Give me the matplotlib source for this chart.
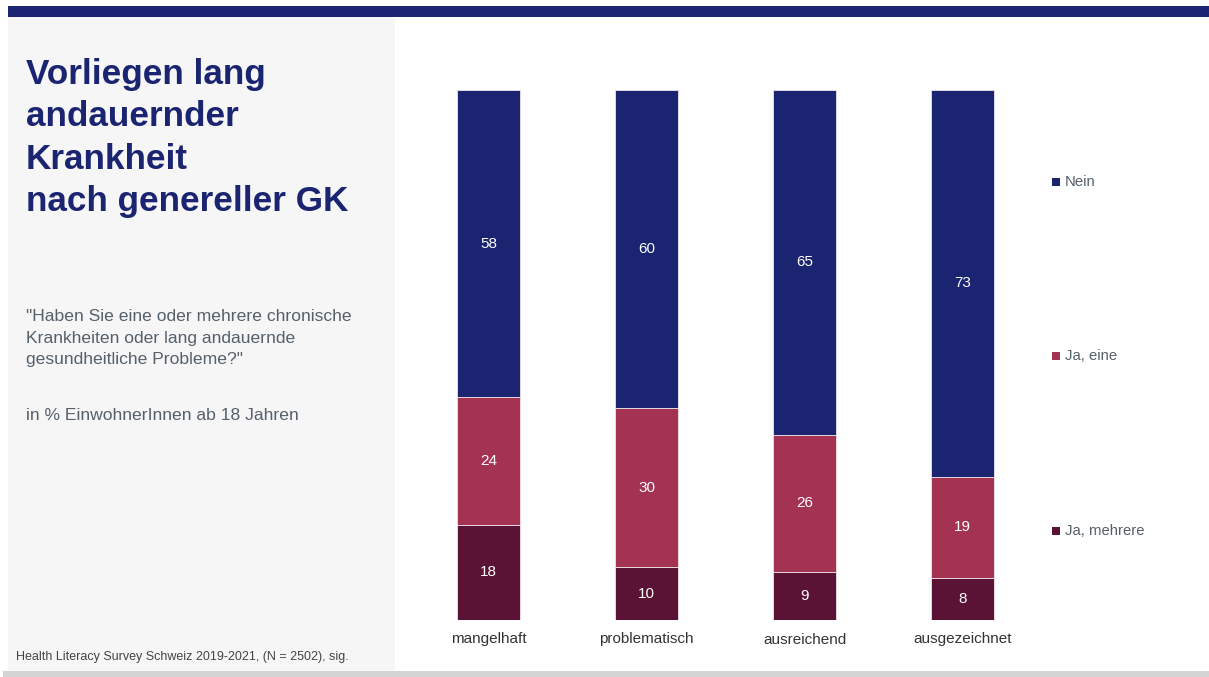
import numpy as np
import matplotlib
matplotlib.use('Agg')
import matplotlib.pyplot as plt
from matplotlib.patches import Rectangle

plt.rcParams['font.family'] = ['Liberation Sans', 'DejaVu Sans']

categories = ['mangelhaft', 'problematisch', 'ausreichend', 'ausgezeichnet']
ja_mehrere = [18, 10, 9, 8]
ja_eine = [24, 30, 26, 19]
nein = [58, 60, 65, 73]
series_names = ['Nein', 'Ja, eine', 'Ja, mehrere']

c_nein = '#1a2471'
c_eine = '#a33253'
c_mehr = '#5a1235'
navy = '#1a2471'
grey_txt = '#55606b'

W, H = 1209, 677
fig = plt.figure(figsize=(W / 100, H / 100), dpi=100)
fig.patch.set_facecolor('white')

def px(x, y, w, h):
    return [x / W, 1 - (y + h) / H, w / W, h / H]

# background pieces
bg = fig.add_axes([0, 0, 1, 1])
bg.set_xlim(0, W)
bg.set_ylim(H, 0)
bg.axis('off')
bg.add_patch(Rectangle((8, 17), 387, 654, color='#f6f6f6', lw=0))
bg.add_patch(Rectangle((8, 6), W - 8, 11, color=navy, lw=0))
bg.add_patch(Rectangle((3, 671), W - 3, 6, color='#d4d4d4', lw=0))

bg.text(26, 58, 'Vorliegen lang\nandauernder\nKrankheit\nnach genereller GK', fontsize=25.3,
        fontweight='bold', color=navy, va='top', ha='left', linespacing=1.36)
bg.text(26, 309, '"Haben Sie eine oder mehrere chronische\nKrankheiten oder lang andauernde\n'
        'gesundheitliche Probleme?"', fontsize=12.6, color=grey_txt, va='top', ha='left',
        linespacing=1.55)
bg.text(26, 408, 'in % EinwohnerInnen ab 18 Jahren', fontsize=12.6, color=grey_txt,
        va='top', ha='left')
bg.text(16, 657, 'Health Literacy Survey Schweiz 2019-2021, (N = 2502), sig.', fontsize=9,
        color='#444444', va='center', ha='left')

# chart
ax = fig.add_axes(px(409.5, 90, 632, 530))
x = np.arange(len(categories))
b1 = np.array(ja_mehrere)
b2 = b1 + np.array(ja_eine)
ax.bar(x, ja_mehrere, width=0.4, color=c_mehr, edgecolor='#f0e6ea', linewidth=0.6)
ax.bar(x, ja_eine, bottom=b1, width=0.4, color=c_eine, edgecolor='#f0e6ea', linewidth=0.6)
ax.bar(x, nein, bottom=b2, width=0.4, color=c_nein, edgecolor='#f0e6ea', linewidth=0.6)

for i in range(len(categories)):
    ax.text(x[i], ja_mehrere[i] / 2, str(ja_mehrere[i]), ha='center', va='center',
            color='white', fontsize=11)
    ax.text(x[i], b1[i] + ja_eine[i] / 2, str(ja_eine[i]), ha='center', va='center',
            color='white', fontsize=11)
    ax.text(x[i], b2[i] + nein[i] / 2, str(nein[i]), ha='center', va='center',
            color='white', fontsize=11)

ax.set_xlim(-0.5, 3.5)
ax.set_ylim(0, 100)
ax.set_xticks(x)
ax.set_xticklabels(categories, fontsize=11, color='#333333')
ax.tick_params(axis='x', length=0, pad=9)
ax.set_yticks([])
for s in ax.spines.values():
    s.set_visible(False)
ax.patch.set_alpha(0)

# legend
leg_y = [182, 356, 531]
leg_c = [c_nein, c_eine, c_mehr]
for name, yy, cc in zip(series_names, leg_y, leg_c):
    bg.add_patch(Rectangle((1052, yy - 4), 8, 8, color=cc, lw=0))
    bg.text(1065, yy, name, fontsize=10.7, color=grey_txt, va='center', ha='left')

fig.savefig('out.png', dpi=100)
